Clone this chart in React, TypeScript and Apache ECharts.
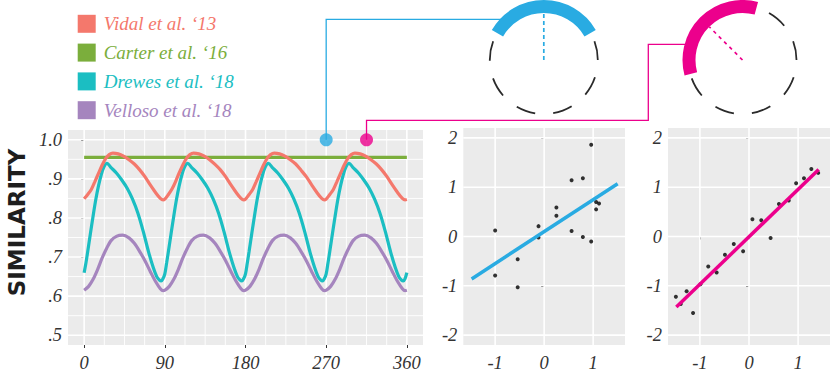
import React, { useEffect, useRef } from "react";
import * as echarts from "echarts";

// ---------- data ----------
const seriesNames = ["Vidal et al. \u201813", "Carter et al. \u201816", "Drewes et al. \u201818", "Velloso et al. \u201818"];
const seriesColors = ["#F4786C", "#7BAE3C", "#1BBEC2", "#A585BE"];

const vidal = [
  [0, 0.849], [4, 0.86], [8, 0.873], [12, 0.893], [16, 0.914], [20, 0.935], [24, 0.952], [28, 0.962], [32, 0.966], [38, 0.964], [44, 0.958], [50, 0.949], [56, 0.938], [62, 0.923], [68, 0.905], [74, 0.884], [80, 0.864], [85, 0.85], [88, 0.846],
  [90, 0.848], [94, 0.86], [98, 0.874], [102, 0.893], [106, 0.915], [110, 0.935], [114, 0.952], [118, 0.962], [122, 0.966], [128, 0.964], [134, 0.958], [140, 0.949], [146, 0.937], [152, 0.923], [158, 0.905], [164, 0.884], [170, 0.864], [175, 0.85], [178, 0.846],
  [180, 0.848], [184, 0.86], [188, 0.873], [192, 0.893], [196, 0.914], [200, 0.935], [204, 0.952], [208, 0.962], [212, 0.966], [218, 0.964], [224, 0.958], [230, 0.949], [236, 0.938], [242, 0.922], [248, 0.905], [254, 0.884], [260, 0.864], [265, 0.85], [268, 0.846],
  [270, 0.848], [274, 0.86], [278, 0.873], [282, 0.893], [286, 0.914], [290, 0.935], [294, 0.952], [298, 0.962], [302, 0.966], [308, 0.964], [314, 0.958], [320, 0.949], [326, 0.938], [332, 0.923], [338, 0.905], [344, 0.884], [350, 0.864], [355, 0.85], [358, 0.846], [360, 0.847],
];
const carter = [[0, 0.955], [360, 0.955]];
const drewes = [
  [0, 0.66], [2, 0.685], [4, 0.714], [7, 0.76], [10, 0.805], [13, 0.847], [16, 0.882], [19, 0.91], [22, 0.93], [25.5, 0.94], [30, 0.929], [36, 0.915], [42, 0.897], [48, 0.876], [54, 0.848], [60, 0.812], [66, 0.765], [72, 0.712], [77, 0.674], [81, 0.65], [84, 0.641], [86, 0.639], [88, 0.645],
  [90, 0.657], [92, 0.685], [94, 0.714], [97, 0.76], [100, 0.805], [103, 0.847], [106, 0.882], [109, 0.91], [112, 0.93], [115.5, 0.94], [120, 0.929], [126, 0.915], [132, 0.897], [138, 0.876], [144, 0.848], [150, 0.812], [156, 0.765], [162, 0.712], [167, 0.674], [171, 0.65], [174, 0.641], [176, 0.639], [178, 0.645],
  [180, 0.657], [182, 0.685], [184, 0.714], [187, 0.76], [190, 0.805], [193, 0.847], [196, 0.882], [199, 0.91], [202, 0.93], [205.5, 0.94], [210, 0.929], [216, 0.915], [222, 0.897], [228, 0.876], [234, 0.848], [240, 0.812], [246, 0.765], [252, 0.712], [257, 0.674], [261, 0.65], [264, 0.641], [266, 0.639], [268, 0.645],
  [270, 0.657], [272, 0.685], [274, 0.714], [277, 0.76], [280, 0.805], [283, 0.847], [286, 0.882], [289, 0.91], [292, 0.93], [295.5, 0.94], [300, 0.929], [306, 0.915], [312, 0.897], [318, 0.876], [324, 0.848], [330, 0.812], [336, 0.765], [342, 0.712], [347, 0.674], [351, 0.65], [354, 0.641], [356, 0.639], [358, 0.645], [360, 0.66],
];
const velloso = [
  [0, 0.615], [5, 0.625], [10, 0.643], [15, 0.668], [20, 0.697], [25, 0.722], [30, 0.742], [36, 0.753], [43, 0.756], [50, 0.749], [56, 0.735], [62, 0.714], [68, 0.69], [74, 0.662], [80, 0.636], [85, 0.619], [88, 0.614],
  [90, 0.615], [95, 0.625], [100, 0.643], [105, 0.668], [110, 0.697], [115, 0.722], [120, 0.742], [126, 0.753], [133, 0.756], [140, 0.749], [146, 0.735], [152, 0.714], [158, 0.69], [164, 0.662], [170, 0.636], [175, 0.619], [178, 0.614],
  [180, 0.615], [185, 0.625], [190, 0.643], [195, 0.668], [200, 0.697], [205, 0.722], [210, 0.742], [216, 0.753], [223, 0.756], [230, 0.749], [236, 0.735], [242, 0.714], [248, 0.69], [254, 0.662], [260, 0.636], [265, 0.619], [268, 0.614],
  [270, 0.615], [275, 0.625], [280, 0.643], [285, 0.668], [290, 0.697], [295, 0.722], [300, 0.742], [306, 0.753], [313, 0.756], [320, 0.749], [326, 0.735], [332, 0.714], [338, 0.69], [344, 0.662], [350, 0.636], [355, 0.619], [358, 0.614], [360, 0.615],
];
const lineData = [vidal, carter, drewes, velloso];

const angleTicks = [0, 90, 180, 270, 360];
const angleMinor = [22.5, 45, 67.5, 112.5, 135, 157.5, 202.5, 225, 247.5, 292.5, 315, 337.5];
const simTicks = [0.5, 0.6, 0.7, 0.8, 0.9, 1.0];
const simMinor = [0.55, 0.65, 0.75, 0.85, 0.95];

const markerPoints = [[270, 1.0], [315, 1.0]];
const markerColors = ["#29ABE2", "#EC008C"];

const scatterA = [
  [-1.0, 0.12], [-1.0, -0.79], [-0.54, -0.46], [-0.54, -1.03], [-0.115, 0.21], [-0.115, -0.02],
  [0.25, 0.59], [0.25, 0.42], [0.56, 1.14], [0.56, 0.11], [0.79, 1.18], [0.79, -0.01],
  [0.96, 1.86], [0.96, -0.1], [1.06, 0.7], [1.12, 0.67], [1.06, 0.55],
];
const fitA = [[-1.48, -0.86], [1.5, 1.07]];
const scatterB = [
  [-1.49, -1.22], [-1.39, -1.37], [-1.27, -1.11], [-1.14, -1.55], [-0.99, -0.97], [-0.83, -0.61],
  [-0.66, -0.73], [-0.49, -0.37], [-0.31, -0.15], [-0.12, -0.3], [0.07, 0.35], [0.25, 0.33],
  [0.44, -0.03], [0.61, 0.66], [0.81, 0.73], [0.96, 1.08], [1.12, 1.18], [1.27, 1.37], [1.41, 1.29],
];
const fitB = [[-1.48, -1.43], [1.42, 1.36]];
const zTicksY = [-2, -1, 0, 1, 2];
const zTicksX = [-1, 0, 1];

// ---------- styling helpers ----------
const SERIF = "Liberation Serif";
const LABEL_COLOR = "#333333";
const BG = "#EBEBEB";

function gridLineSeries(gi: number, xr: number[], yr: number[], vMajor: number[], vMinor: number[], hMajor: number[], hMinor: number[]) {
  const data: number[][] = [];
  vMajor.forEach((v) => data.push([v, 1, 1]));
  vMinor.forEach((v) => data.push([v, 1, 0]));
  hMajor.forEach((v) => data.push([v, 0, 1]));
  hMinor.forEach((v) => data.push([v, 0, 0]));
  return {
    type: "custom",
    xAxisIndex: gi,
    yAxisIndex: gi,
    silent: true,
    z: 1,
    data,
    encode: { x: -1, y: -1 },
    renderItem: (params: any, api: any) => {
      const v = api.value(0);
      const vert = api.value(1) === 1;
      const major = api.value(2) === 1;
      const cs = params.coordSys;
      let shape;
      if (vert) {
        const x = api.coord([v, yr[0]])[0];
        shape = { x1: x, y1: cs.y, x2: x, y2: cs.y + cs.height };
      } else {
        const y = api.coord([xr[0], v])[1];
        shape = { x1: cs.x, y1: y, x2: cs.x + cs.width, y2: y };
      }
      return {
        type: "line",
        shape,
        style: { stroke: "#FFFFFF", lineWidth: major ? 1.6 : 0.9 },
      };
    },
  };
}

function axisCommon(customValues: number[], margin: number, formatter?: (v: number) => string) {
  return {
    type: "value",
    splitLine: { show: false },
    axisLine: { show: false },
    axisTick: { show: true, length: 3, lineStyle: { color: "#333", width: 1 }, customValues },
    axisLabel: {
      customValues,
      fontFamily: SERIF,
      fontStyle: "italic",
      fontSize: 18.5,
      color: LABEL_COLOR,
      margin,
      formatter: formatter || ((v: number) => (v < 0 ? "-" + Math.abs(v) : String(v))),
    },
  };
}

export default function App() {
  const ref = useRef<HTMLDivElement>(null);

  useEffect(() => {
    if (!ref.current) return;
    const chart = echarts.init(ref.current, undefined, { renderer: "svg" });

    const xr0 = [-18, 378];
    const yr0 = [0.475, 1.025];
    const xr1 = [-1.65, 1.65];
    const yr1 = [-2.2, 2.2];

    const option: any = {
      animation: false,
      backgroundColor: "#FFFFFF",
      grid: [
        { left: 68, top: 130, width: 355, height: 215, show: true, backgroundColor: BG, borderWidth: 0 },
        { left: 463.3, top: 128, width: 161.7, height: 217, show: true, backgroundColor: BG, borderWidth: 0 },
        { left: 668, top: 128, width: 162, height: 217, show: true, backgroundColor: BG, borderWidth: 0 },
      ],
      xAxis: [
        { ...axisCommon(angleTicks, 8), gridIndex: 0, min: xr0[0], max: xr0[1] },
        { ...axisCommon(zTicksX, 8), gridIndex: 1, min: xr1[0], max: xr1[1] },
        { ...axisCommon(zTicksX, 8), gridIndex: 2, min: xr1[0], max: xr1[1] },
      ],
      yAxis: [
        {
          ...axisCommon(simTicks, 6, (v: number) => (Math.abs(v - 1) < 1e-9 ? "1.0" : "." + Math.round(v * 10))),
          gridIndex: 0, min: yr0[0], max: yr0[1],
        },
        { ...axisCommon(zTicksY, 6), gridIndex: 1, min: yr1[0], max: yr1[1] },
        { ...axisCommon(zTicksY, 6), gridIndex: 2, min: yr1[0], max: yr1[1] },
      ],
      legend: {
        show: true,
        orient: "vertical",
        left: 72.7,
        top: 9.3,
        itemWidth: 18,
        itemHeight: 18,
        itemGap: 9.8,
        selectedMode: false,
        icon: "rect",
        textStyle: { fontFamily: SERIF, fontStyle: "italic", fontSize: 19, padding: [0, 0, 0, 3] },
        data: seriesNames.map((n, i) => ({ name: n, icon: "rect", textStyle: { color: seriesColors[i] } })),
      },
      series: [
        gridLineSeries(0, xr0, yr0, angleTicks, angleMinor, simTicks, simMinor),
        gridLineSeries(1, xr1, yr1, zTicksX, [], zTicksY, []),
        gridLineSeries(2, xr1, yr1, zTicksX, [], zTicksY, []),
        ...lineData.map((d, i) => ({
          type: "line",
          name: seriesNames[i],
          xAxisIndex: 0,
          yAxisIndex: 0,
          data: d,
          showSymbol: false,
          symbol: "none",
          smooth: i === 1 ? false : 0.3,
          z: 3 + (i === 0 ? 1 : 0),
          itemStyle: { color: seriesColors[i] },
          lineStyle: { color: seriesColors[i], width: 3.2 },
        })),
        {
          type: "scatter",
          xAxisIndex: 0,
          yAxisIndex: 0,
          symbolSize: 13,
          z: 10,
          data: markerPoints.map((p, i) => ({ value: p, itemStyle: { color: markerColors[i] } })),
        },
        {
          type: "scatter", xAxisIndex: 1, yAxisIndex: 1, symbolSize: 4, z: 5,
          itemStyle: { color: "#000" }, data: scatterA,
        },
        {
          type: "line", xAxisIndex: 1, yAxisIndex: 1, data: fitA, showSymbol: false, symbol: "none", z: 6,
          lineStyle: { color: markerColors[0], width: 3.5 },
        },
        {
          type: "scatter", xAxisIndex: 2, yAxisIndex: 2, symbolSize: 4, z: 5,
          itemStyle: { color: "#000" }, data: scatterB,
        },
        {
          type: "line", xAxisIndex: 2, yAxisIndex: 2, data: fitB, showSymbol: false, symbol: "none", z: 6,
          lineStyle: { color: markerColors[1], width: 3.5 },
        },
      ],
    };
    chart.setOption(option);

    // annotations: connectors from markers to dials
    const pA = chart.convertToPixel({ xAxisIndex: 0, yAxisIndex: 0 }, markerPoints[0]) as number[];
    const pB = chart.convertToPixel({ xAxisIndex: 0, yAxisIndex: 0 }, markerPoints[1]) as number[];

    const dialA = { cx: 543.8, cy: 60, r: 54, center: -90 };
    const dialB = { cx: 742.5, cy: 60, r: 54, center: -135 };
    const deg = Math.PI / 180;
    const dashLen = (21 / 360) * 2 * Math.PI * 54;
    const gapLen = (19 / 360) * 2 * Math.PI * 54;

    const dial = (d: any, color: string, dash: number[]) => [
      {
        type: "circle",
        z: 20,
        shape: { cx: d.cx, cy: d.cy, r: d.r },
        style: { fill: "none", stroke: "#2a2a2a", lineWidth: 1.8, lineDash: [dashLen, gapLen], lineDashOffset: dashLen },
        silent: true,
      },
      {
        type: "line",
        z: 21,
        shape: {
          x1: d.cx, y1: d.cy,
          x2: d.cx + 47 * Math.cos(d.center * deg), y2: d.cy + 47 * Math.sin(d.center * deg),
        },
        style: { stroke: color, lineWidth: 1.7, lineDash: dash },
        silent: true,
      },
      {
        type: "arc",
        z: 22,
        shape: { cx: d.cx, cy: d.cy, r: 53.5, startAngle: (d.center - 60) * deg, endAngle: (d.center + 60) * deg, clockwise: true },
        style: { fill: "none", stroke: color, lineWidth: 13, lineCap: "butt" },
        silent: true,
      },
    ];

    chart.setOption({
      graphic: [
        {
          type: "text",
          x: 17,
          y: 222.5,
          rotation: Math.PI / 2,
          style: {
            text: "SIMILARITY",
            fontFamily: "DejaVu Sans",
            fontWeight: "bold",
            fontSize: 23,
            fill: "#1e1e1e",
            align: "center",
            verticalAlign: "middle",
          },
          silent: true,
        },
        {
          type: "polyline",
          z: 15,
          shape: { points: [[pA[0], pA[1]], [pA[0], 19.3], [505, 19.3]] },
          style: { fill: "none", stroke: markerColors[0], lineWidth: 1.3 },
          silent: true,
        },
        {
          type: "polyline",
          z: 15,
          shape: { points: [[pB[0], pB[1]], [pB[0], 120.3], [648.3, 120.3], [648.3, 44.3], [690, 44.3]] },
          style: { fill: "none", stroke: markerColors[1], lineWidth: 1.3 },
          silent: true,
        },
        ...dial(dialA, markerColors[0], [4, 3]),
        ...dial(dialB, markerColors[1], [3.5, 4]),
      ],
    });

    return () => chart.dispose();
  }, []);

  return (
    <div
      ref={ref}
      style={{ position: "absolute", left: 0, top: 0, width: 830, height: 373 }}
    />
  );
}
